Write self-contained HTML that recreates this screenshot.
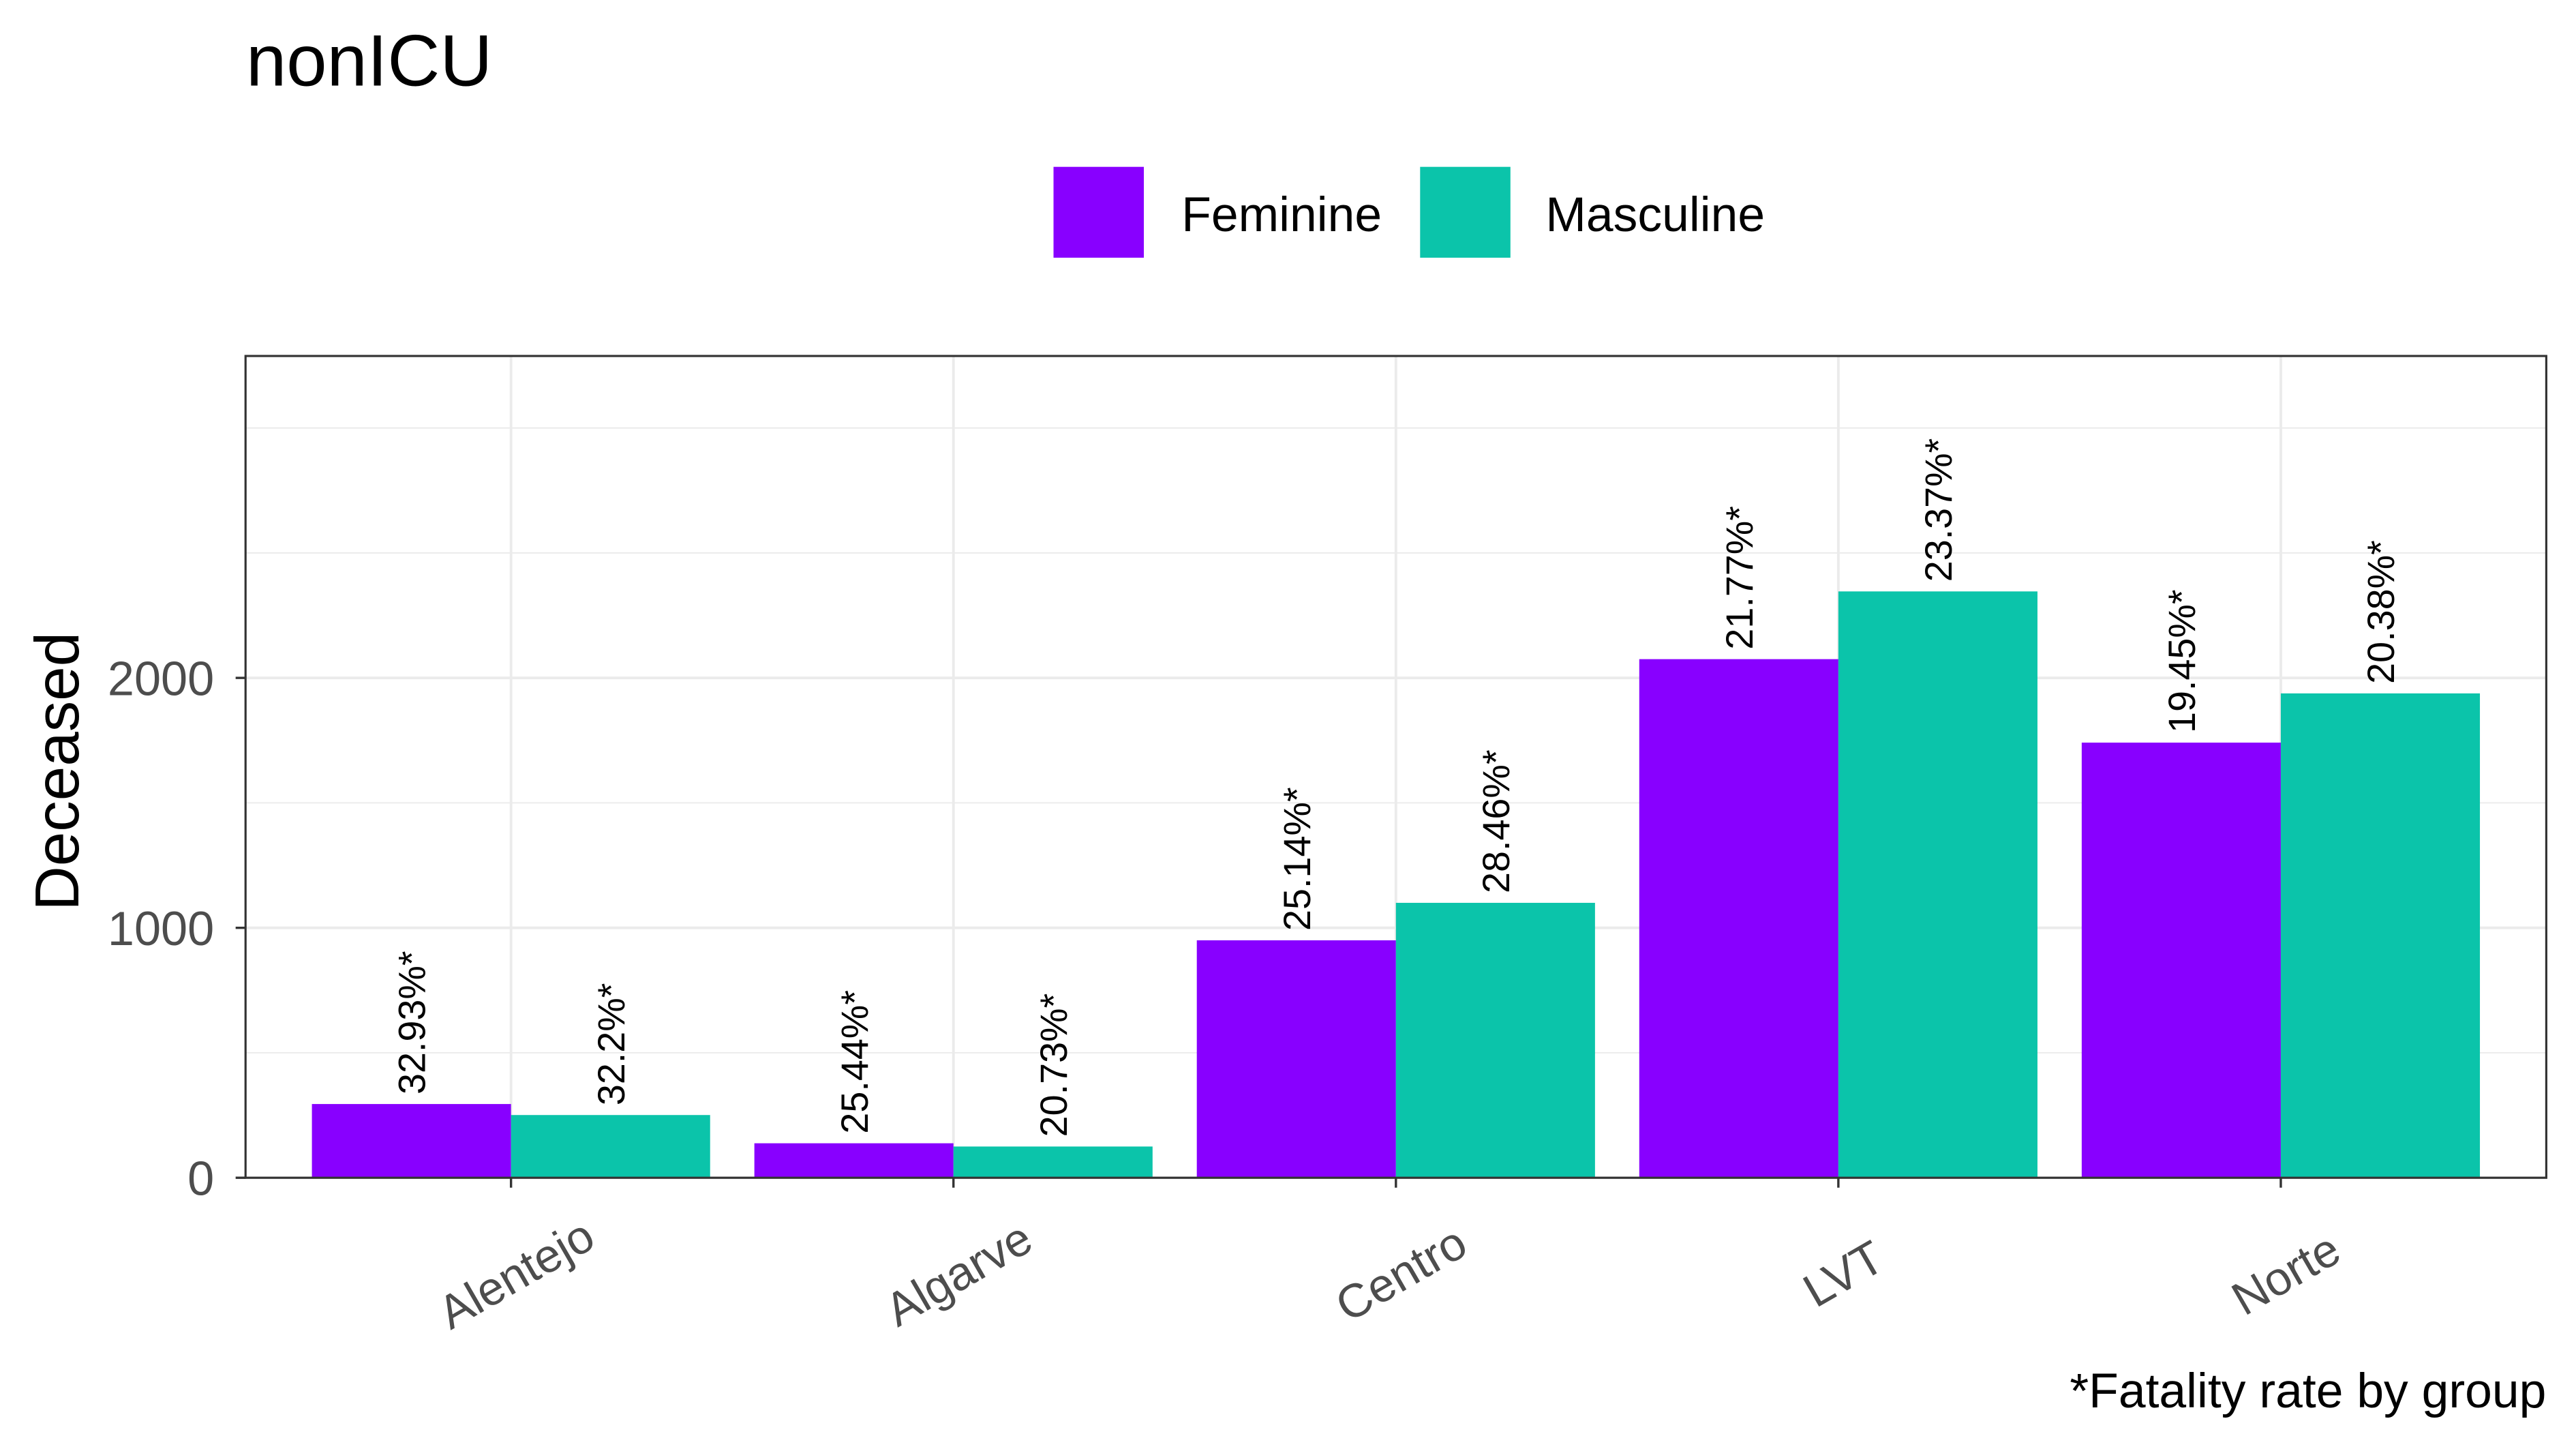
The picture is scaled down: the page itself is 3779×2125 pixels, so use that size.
<!DOCTYPE html>
<html><head><meta charset="utf-8"><style>html,body{margin:0;padding:0;background:#fff}svg{display:block}text{font-family:"Liberation Sans",Arial,sans-serif}</style></head>
<body>
<svg id="chart" width="3779" height="2125" viewBox="0 0 1560 877.2" xmlns="http://www.w3.org/2000/svg">
<rect width="1560" height="877.2" fill="#fff"/>
<text x="149" y="51.8" font-size="44">nonICU</text>
<g>
<rect x="638" y="101" width="54.7" height="55" fill="#8800ff"/>
<text x="715.5" y="140" font-size="29.5">Feminine</text>
<rect x="860" y="101" width="54.7" height="55" fill="#0bc4aa"/>
<text x="936" y="140" font-size="29.5">Masculine</text>
</g>
<g id="grid"></g>
<g id="bars"></g>
<g id="labels"></g>
<rect x="148.7" y="215.5" width="1393.3" height="497.5" fill="none" stroke="#333" stroke-width="1.3"/>
<g id="axes"></g>
<text transform="translate(47.5,467) rotate(-90)" text-anchor="middle" font-size="37.5">Deceased</text>
<text x="1542" y="852" text-anchor="end" font-size="29.5">*Fatality rate by group</text>
</svg>
<script>
const categories = ["Alentejo","Algarve","Centro","LVT","Norte"];
const feminine = [295, 138, 950, 2075, 1741];
const masculine = [251, 125, 1100, 2346, 1938];
const femRates = ["32.93%*","25.44%*","25.14%*","21.77%*","19.45%*"];
const mascRates = ["32.2%*","20.73%*","28.46%*","23.37%*","20.38%*"];
const yTicks = [0, 1000, 2000];
const yMinor = [500, 1500, 2500, 3000];

const NS = "http://www.w3.org/2000/svg";
const L = 148.7, R = 1542, T = 215.5, B = 713;
const yMax = 3288;
const y = v => B - v / yMax * (B - T);
const step = (R - L) / (categories.length + 0.2);
const xc = i => L + (i + 0.6) * step;
const bw = 0.45 * step;
function mk(tag, attrs, parent){const e=document.createElementNS(NS,tag);for(const k in attrs)e.setAttribute(k,attrs[k]);parent.appendChild(e);return e;}
const grid=document.getElementById('grid'), bars=document.getElementById('bars'), labels=document.getElementById('labels'), axes=document.getElementById('axes');
yMinor.forEach(v=>{const l=mk('line',{x1:L,x2:R,y1:y(v),y2:y(v),stroke:'#ebebeb','stroke-width':0.8},grid);

});
yTicks.forEach(v=>{const l=mk('line',{x1:L,x2:R,y1:y(v),y2:y(v),stroke:'#ebebeb','stroke-width':1.6},grid);


const t=mk('line',{x1:L-6,x2:L,y1:y(v),y2:y(v),stroke:'#333','stroke-width':1.4},axes);


const tx=mk('text',{x:L-19,y:y(v)+10.5,'text-anchor':'end','font-size':29,fill:'#4d4d4d'},axes);tx.textContent=v;

});
categories.forEach((c,i)=>{const cx=xc(i);
const g=mk('line',{x1:cx,x2:cx,y1:T,y2:B,stroke:'#ebebeb','stroke-width':1.6},grid);


const bf=mk('rect',{x:cx-bw,y:y(feminine[i]),width:bw,height:B-y(feminine[i]),fill:'#8800ff'},bars);


const bm=mk('rect',{x:cx,y:y(masculine[i]),width:bw,height:B-y(masculine[i]),fill:'#0bc4aa'},bars);


[[cx-bw/2,feminine[i],femRates[i]],[cx+bw/2,masculine[i],mascRates[i]]].forEach(([lx,v,s])=>{
const t=mk('text',{transform:`translate(${lx+8.3},${y(v)-5.8}) rotate(-90)`,'font-size':23,fill:'#000'},labels);t.textContent=s;

});
const tk=mk('line',{x1:cx,x2:cx,y1:B,y2:B+6,stroke:'#333','stroke-width':1.4},axes);


const xl=mk('text',{transform:`translate(${cx+3},${B+58}) rotate(-30)`,'text-anchor':'middle',dy:'0.35em','font-size':28.5,fill:'#4d4d4d'},axes);xl.textContent=c;

});
</script>
</body></html>
